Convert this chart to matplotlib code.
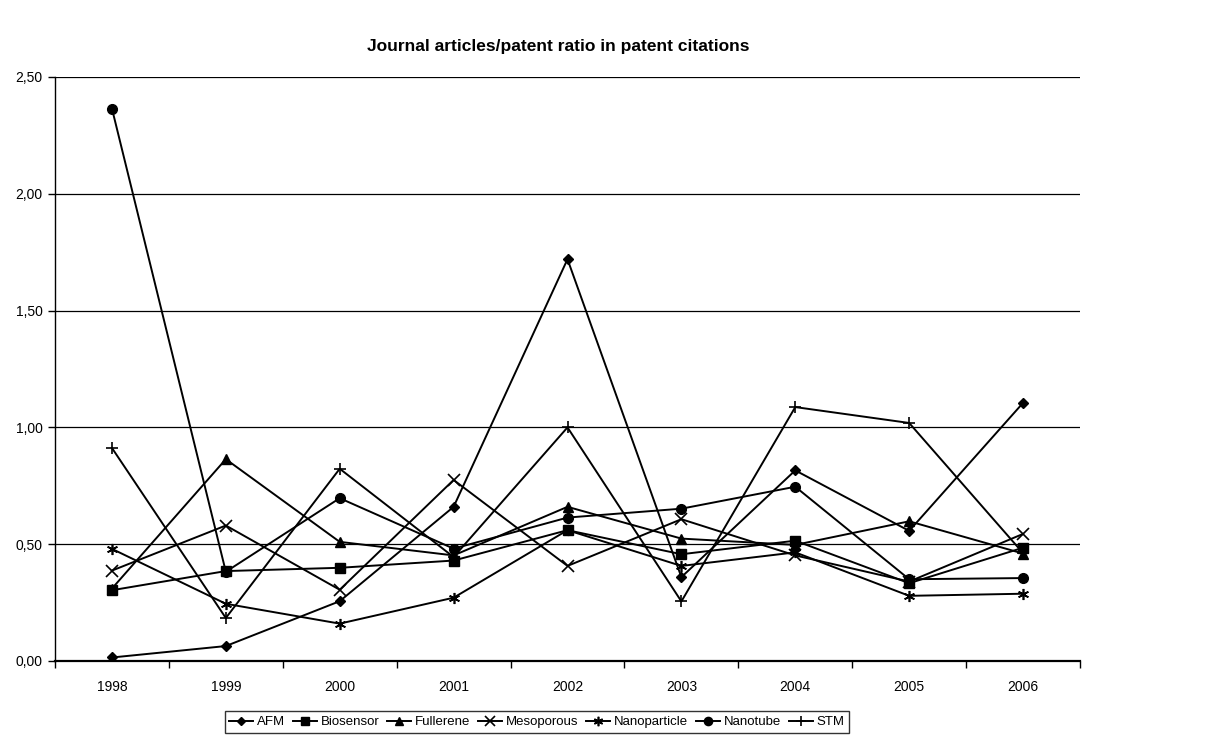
import matplotlib
matplotlib.use("Agg")
import matplotlib.pyplot as plt
import numpy as np

plt.rcParams['font.family'] = ['Liberation Sans', 'DejaVu Sans']

years = ["1998", "1999", "2000", "2001", "2002", "2003", "2004", "2005", "2006"]

afm          = [0.015, 0.064, 0.256, 0.660, 1.720, 0.359, 0.816, 0.557, 1.105]
biosensor    = [0.303, 0.385, 0.399, 0.430, 0.560, 0.457, 0.515, 0.333, 0.485]
fullerene    = [0.310, 0.864, 0.510, 0.452, 0.660, 0.524, 0.497, 0.598, 0.460]
mesoporous   = [0.387, 0.580, 0.305, 0.775, 0.407, 0.607, 0.452, 0.340, 0.544]
nanoparticle = [0.480, 0.245, 0.160, 0.271, 0.560, 0.407, 0.465, 0.279, 0.288]
nanotube     = [2.365, 0.382, 0.697, 0.481, 0.614, 0.652, 0.746, 0.350, 0.355]
stm          = [0.912, 0.184, 0.823, 0.445, 1.000, 0.255, 1.087, 1.019, 0.462]

series = [
    ("AFM", afm, dict(marker="D", markersize=5)),
    ("Biosensor", biosensor, dict(marker="s", markersize=7)),
    ("Fullerene", fullerene, dict(marker="^", markersize=7)),
    ("Mesoporous", mesoporous, dict(marker="x", markersize=8, markeredgewidth=1.2)),
    ("Nanoparticle", nanoparticle, dict(marker=(6, 2, 0), markersize=8, markeredgewidth=1.2)),
    ("Nanotube", nanotube, dict(marker="o", markersize=7)),
    ("STM", stm, dict(marker="+", markersize=9, markeredgewidth=1.2)),
]

fig = plt.figure(figsize=(12.15, 7.40), dpi=100)
ax = fig.add_axes([55 / 1215, 1 - 661 / 740, (1080 - 55) / 1215, (661 - 77) / 740])

x = np.arange(len(years))
for name, vals, style in series:
    ax.plot(x, vals, color="black", linewidth=1.4, label=name,
            markerfacecolor="black", markeredgecolor="black", **style)

ax.set_ylim(0, 2.5)
ax.set_xlim(-0.5, len(years) - 0.5)
ax.set_yticks(np.arange(0, 2.51, 0.5))
ax.set_yticklabels([f"{v:.2f}".replace(".", ",") for v in np.arange(0, 2.51, 0.5)])
ax.yaxis.grid(True, color="black", linewidth=0.9)
ax.set_axisbelow(True)

ax.set_xticks(np.arange(-0.5, len(years), 1.0))
ax.set_xticklabels([])
ax.set_xticks(x, minor=True)
ax.set_xticklabels(years, minor=True)
ax.tick_params(axis="x", which="minor", length=0, pad=14, labelsize=10)
ax.tick_params(axis="x", which="major", length=5, width=1, direction="out")
ax.tick_params(axis="y", length=5, width=1, direction="out", labelsize=10, pad=4)

for side in ("top", "right"):
    ax.spines[side].set_visible(False)
for side in ("left", "bottom"):
    ax.spines[side].set_color("black")
    ax.spines[side].set_linewidth(1.0)
ax.spines["bottom"].set_linewidth(1.6)

fig.text(558 / 1215, 1 - 47 / 740, "Journal articles/patent ratio in patent citations",
         ha="center", va="center", fontsize=12.5, fontweight="bold")

leg = fig.legend(loc="center", bbox_to_anchor=(537 / 1215, 1 - 722 / 740), ncol=7,
                 frameon=True, fancybox=False, edgecolor="black", fontsize=9.5,
                 handlelength=1.8, handletextpad=0.3, columnspacing=0.6,
                 borderpad=0.35, markerscale=0.85)
leg.get_frame().set_linewidth(1.0)

fig.savefig("out.png", dpi=100, facecolor="white")
